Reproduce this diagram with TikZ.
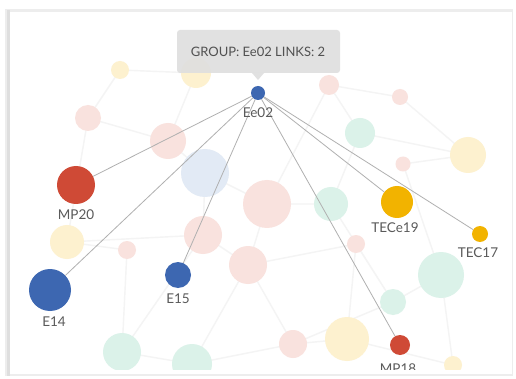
\documentclass[tikz,border=0pt]{standalone}
\usepackage{fontspec}
\setmainfont{Lato}
\definecolor{nblue}{HTML}{3D67B1}
\definecolor{nred}{HTML}{CF4A36}
\definecolor{namber}{HTML}{F2B300}
\definecolor{ppink}{HTML}{F9E2DE}
\definecolor{pblue}{HTML}{E2EAF5}
\definecolor{pmint}{HTML}{DBF2E9}
\definecolor{pyellow}{HTML}{FDF1CF}
\definecolor{lbl}{HTML}{5A5A5A}
\definecolor{edgec}{HTML}{B0B0B0}
\definecolor{faint}{HTML}{F4F4F4}
\definecolor{tipbg}{HTML}{DFDFDF}
\begin{document}
\begin{tikzpicture}[x=1pt,y=-1pt,
  bg/.style={circle,inner sep=0pt,minimum size=#1},
  dot/.style={circle,inner sep=0pt,minimum size=#1},
  lab/.style={text=lbl,font=\fontsize{13.5}{13.5}\selectfont,inner sep=0pt},
  link/.style={draw=edgec,line width=0.8pt},
  flink/.style={draw=faint,line width=1.4pt}]
\useasboundingbox (0,0) rectangle (516,379);
% panel shadow and panel
\fill[black!7] (5,9) rectangle (513,376);
\fill[black!13] (7,10) rectangle (10,376);
\fill[white] (10,12) rectangle (512,374);
\begin{scope}
\clip (10,12) rectangle (512,369);
% background node positions
\coordinate (b1) at (120,70);
\coordinate (b2) at (196,73);
\coordinate (b3) at (329,85);
\coordinate (b4) at (400,97);
\coordinate (b5) at (88,118);
\coordinate (b6) at (168,141);
\coordinate (b7) at (205,173);
\coordinate (b8) at (267,204);
\coordinate (b9) at (360,133);
\coordinate (b10) at (468,155);
\coordinate (b11) at (403,164);
\coordinate (b12) at (331,204);
\coordinate (b13) at (356,244);
\coordinate (b14) at (67,242);
\coordinate (b15) at (203,235);
\coordinate (b16) at (127,250);
\coordinate (b17) at (248,265);
\coordinate (b18) at (441,275);
\coordinate (b19) at (393,302);
\coordinate (b20) at (122,352);
\coordinate (b21) at (192,364);
\coordinate (b22) at (293,344);
\coordinate (b23) at (347,339);
\coordinate (b24) at (453,365);
% faint background links
\draw[flink] (b5) -- (b6) (b6) -- (b7) (b7) -- (b8) (b8) -- (b12)
  (b12) -- (b9) (b9) -- (b3) (b3) -- (b4) (b9) -- (b10) (b10) -- (b11)
  (b14) -- (b15) (b15) -- (b17) (b17) -- (b13) (b13) -- (b19) (b19) -- (b18)
  (b20) -- (b21) (b21) -- (b22) (b22) -- (b23) (b23) -- (b24)
  (b1) -- (b2) (b2) -- (b6) (b16) -- (b20) (b17) -- (b22) (b12) -- (b19)
  (b14) -- (b16) (b5) -- (b14) (b8) -- (b17) (b7) -- (b15) (b18) -- (b24)
  (b11) -- (b18) (b20) -- (b15) (b21) -- (b17) (b22) -- (b19) (b1) -- (b5)
  (b3) -- (b8) (b4) -- (b10) (b13) -- (b23);
% background circles
\node[bg=18pt,fill=pyellow] (c1) at (b1) {};
\node[bg=30pt,fill=pyellow] (c2) at (b2) {};
\node[bg=20pt,fill=ppink] (c3) at (b3) {};
\node[bg=16pt,fill=ppink] (c4) at (b4) {};
\node[bg=26pt,fill=ppink] (c5) at (b5) {};
\node[bg=36pt,fill=ppink] (c6) at (b6) {};
\node[bg=48pt,fill=pblue] (c7) at (b7) {};
\node[bg=48pt,fill=ppink] (c8) at (b8) {};
\node[bg=30pt,fill=pmint] (c9) at (b9) {};
\node[bg=36pt,fill=pyellow] (c10) at (b10) {};
\node[bg=15pt,fill=ppink] (c11) at (b11) {};
\node[bg=34pt,fill=pmint] (c12) at (b12) {};
\node[bg=18pt,fill=ppink] (c13) at (b13) {};
\node[bg=34pt,fill=pyellow] (c14) at (b14) {};
\node[bg=38pt,fill=ppink] (c15) at (b15) {};
\node[bg=18pt,fill=ppink] (c16) at (b16) {};
\node[bg=38pt,fill=ppink] (c17) at (b17) {};
\node[bg=46pt,fill=pmint] (c18) at (b18) {};
\node[bg=26pt,fill=pmint] (c19) at (b19) {};
\node[bg=38pt,fill=pmint] (c20) at (b20) {};
\node[bg=40pt,fill=pmint] (c21) at (b21) {};
\node[bg=28pt,fill=ppink] (c22) at (b22) {};
\node[bg=44pt,fill=pyellow] (c23) at (b23) {};
\node[bg=18pt,fill=pyellow] (c24) at (b24) {};
% main nodes
\node[dot=14pt,fill=nblue] (ee02) at (258,93) {};
\node[dot=38pt,fill=nred] (mp20) at (76,185) {};
\node[dot=42pt,fill=nblue] (e14) at (50,290) {};
\node[dot=26pt,fill=nblue] (e15) at (178,275) {};
\node[dot=32pt,fill=namber] (tece19) at (397,202) {};
\node[dot=16pt,fill=namber] (tec17) at (480,234) {};
\node[dot=20pt,fill=nred] (mp18) at (400,345) {};
% main edges
\draw[link] (ee02) -- (mp20);
\draw[link] (ee02) -- (e14);
\draw[link] (ee02) -- (e15);
\draw[link] (ee02) -- (tece19);
\draw[link] (ee02) -- (tec17);
\draw[link] (ee02) -- (mp18);
% labels
\node[lab] (lee02) at (258,113) {Ee02};
\node[lab] (lmp20) at (76,215) {MP20};
\node[lab] (le14) at (54,322) {E14};
\node[lab] (le15) at (178,299) {E15};
\node[lab] (ltece19) at (395,228) {TECe19};
\node[lab] (ltec17) at (478,253) {TEC17};
\node[lab] (lmp18) at (398,369) {MP18};
\end{scope}
% tooltip
\fill[tipbg,opacity=0.92,rounded corners=3pt] (177,30) rectangle (340,73);
\fill[tipbg,opacity=0.92] (252,73) -- (264,73) -- (258,80) -- cycle;
\node[text=lbl!90!black,font=\fontsize{13}{13}\selectfont,inner sep=0pt] (tip) at (258,52) {GROUP: Ee02 LINKS: 2};
\end{tikzpicture}
\end{document}
